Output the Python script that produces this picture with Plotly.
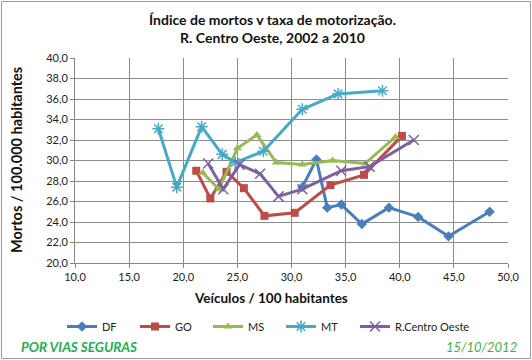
import plotly.graph_objects as go

# Data (2002..2010)
df_x = [31.0, 32.3, 33.3, 34.6, 36.5, 39.0, 41.7, 44.5, 48.3]
df_y = [27.4, 30.1, 25.4, 25.7, 23.8, 25.4, 24.5, 22.6, 25.0]

go_x = [21.2, 22.5, 24.0, 25.6, 27.5, 30.3, 33.6, 36.7, 40.2]
go_y = [29.0, 26.3, 28.9, 27.3, 24.6, 24.9, 27.6, 28.6, 32.4]

ms_x = [21.8, 23.3, 25.0, 26.8, 28.6, 31.0, 33.8, 36.8, 39.6]
ms_y = [28.8, 27.2, 31.2, 32.5, 29.8, 29.6, 30.0, 29.7, 32.3]

mt_x = [17.7, 19.4, 21.7, 23.6, 24.8, 27.4, 31.0, 34.3, 38.4]
mt_y = [33.1, 27.4, 33.3, 30.6, 29.8, 30.9, 35.0, 36.5, 36.8]

rco_x = [22.3, 23.7, 25.2, 27.1, 28.8, 31.0, 34.6, 37.2, 41.3]
rco_y = [29.7, 27.2, 29.6, 28.7, 26.5, 27.2, 29.0, 29.4, 32.0]

series_names = ["DF", "GO", "MS", "MT", "R.Centro Oeste"]
title_text = "Índice de mortos v taxa de motorização.<br>R. Centro Oeste, 2002 a 2010"
x_title = "Veículos / 100 habitantes"
y_title = "Mortos / 100.000 habitantes"

FONT = "Lato, 'Open Sans', sans-serif"

colors = ["#4A7EBB", "#BE4B48", "#98B954", "#46AAC5", "#7D60A0"]
symbols = ["diamond", "square", "triangle-up", "asterisk-open", "x-thin-open"]
legends = ["legend", "legend", "legend", "legend", "legend2"]
data = [(df_x, df_y), (go_x, go_y), (ms_x, ms_y), (mt_x, mt_y), (rco_x, rco_y)]

fig = go.Figure()
for (xs, ys), name, c, s, lg in zip(data, series_names, colors, symbols, legends):
    marker = dict(symbol=s, size=8, color=c)
    if "open" in s:
        marker["line"] = dict(color=c, width=1.5)
        marker["size"] = 10
    fig.add_trace(go.Scatter(x=xs, y=ys, mode="lines+markers", name=name, legend=lg,
                             line=dict(color=c, width=3), marker=marker))

L, R, T, B = 75, 24, 58, 97
W, H = 532, 360
pw, ph = W - L - R, H - T - B

def px(xpix):
    return (xpix - L) / pw

def py(ypix):
    return (H - B - ypix) / ph

fig.update_layout(
    width=W, height=H,
    margin=dict(l=L, r=R, t=T, b=B, autoexpand=False),
    paper_bgcolor="white", plot_bgcolor="white",
    separators=",.",
    font=dict(family=FONT, size=11, color="#222"),
    showlegend=True,
    legend=dict(orientation="h", x=px(62), y=py(312), xanchor="left", yanchor="top",
                entrywidth=28, entrywidthmode="pixels", itemwidth=30,
                font=dict(size=11, color="#222"), bgcolor="rgba(0,0,0,0)"),
    legend2=dict(orientation="h", x=px(355), y=py(312), xanchor="left", yanchor="top",
                 itemwidth=30, font=dict(size=11, color="#222"),
                 bgcolor="rgba(0,0,0,0)"),
    xaxis=dict(range=[10, 50], dtick=5, tick0=10, tickformat=".1f",
               showgrid=True, gridcolor="#8c8c8c", gridwidth=1,
               showline=True, linecolor="#868686", linewidth=1,
               ticks="outside", ticklen=4, tickcolor="#868686",
               zeroline=False, tickfont=dict(size=11, color="#222"), mirror=False),
    yaxis=dict(range=[20, 40], dtick=2, tick0=20, tickformat=".1f",
               showgrid=True, gridcolor="#8c8c8c", gridwidth=1,
               showline=True, linecolor="#868686", linewidth=1,
               ticks="outside", ticklen=4, tickcolor="#868686",
               zeroline=False, tickfont=dict(size=11, color="#222")),
    shapes=[dict(type="rect", xref="paper", yref="paper",
                 x0=px(1.5), x1=px(530.5), y0=py(358.5), y1=py(1.5),
                 line=dict(color="#9a9a9a", width=1), fillcolor="rgba(0,0,0,0)",
                 layer="below")],
    annotations=[
        dict(text="<b>" + title_text.replace("<br>", "</b><br><b>") + "</b>",
             xref="paper", yref="paper", x=px(272), y=py(28), xanchor="center",
             yanchor="middle", showarrow=False, align="center",
             font=dict(size=14, color="#111", family=FONT)),
        dict(text="<b>" + x_title + "</b>", xref="paper", yref="paper",
             x=px(271), y=py(298), xanchor="center", yanchor="middle",
             showarrow=False, font=dict(size=13.5, color="#111", family=FONT)),
        dict(text="<b>" + y_title + "</b>", xref="paper", yref="paper",
             x=px(16), y=py(160), xanchor="center", yanchor="middle", textangle=-90,
             showarrow=False, font=dict(size=14.5, color="#111", family=FONT)),
        dict(text="<b><i>POR VIAS SEGURAS</i></b>", xref="paper", yref="paper",
             x=px(19), y=py(347), xanchor="left", yanchor="middle",
             showarrow=False, font=dict(size=13.5, color="#1DB04E", family=FONT)),
        dict(text="<i>15/10/2012</i>", xref="paper", yref="paper",
             x=px(519), y=py(347), xanchor="right", yanchor="middle",
             showarrow=False, font=dict(size=13, color="#3CB043", family=FONT)),
    ],
)

fig.write_html("out.html", config={"displayModeBar": False},
               post_script="document.body.style.margin='0';")
